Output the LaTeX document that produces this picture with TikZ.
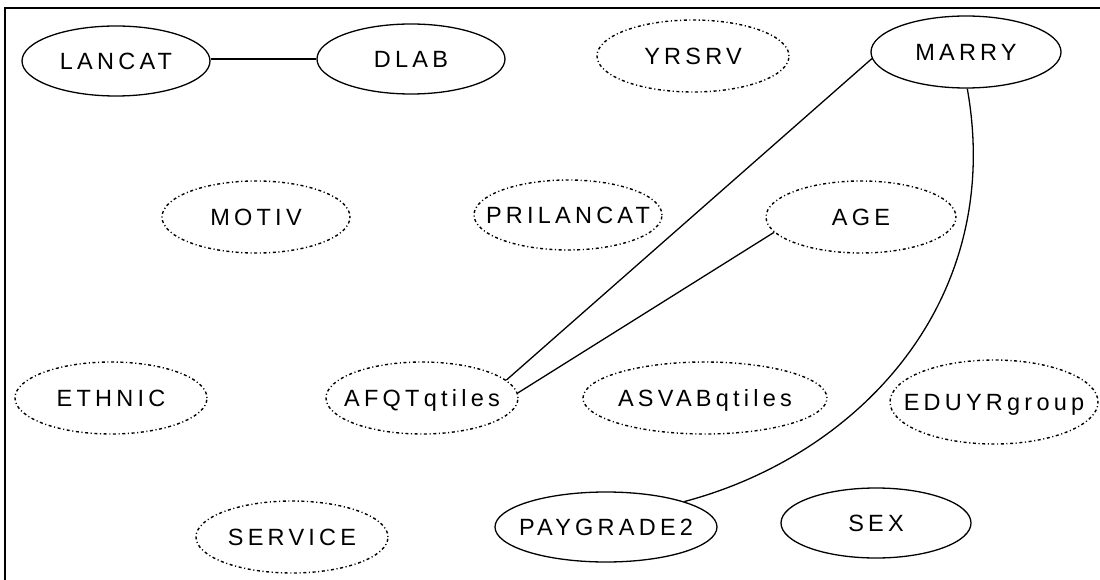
\documentclass[tikz,border=0pt]{standalone}
\usepackage{fontspec}
\setmainfont{Liberation Sans}[LetterSpace=18]
\usetikzlibrary{shapes.geometric}
\newcommand\vlabel[1]{\makebox[0pt]{#1}}
\begin{document}
\begin{tikzpicture}[x=1pt,y=1pt,
  var/.style={ellipse, draw, line width=1.3pt, inner sep=0pt,
    font=\fontsize{23.5}{27}\selectfont, text height=16.5pt, text depth=0pt},
  solidvar/.style={var},
  latent/.style={var, line width=1.4pt, dash pattern=on 1.1pt off 2.6pt on 3pt off 2.6pt},
  link/.style={line width=1.3pt}]
\useasboundingbox (0,0) rectangle (1100,-580);
\draw[line width=1.5pt] (5,-580) -- (5,-8) -- (1100,-8);

\node[solidvar, minimum width=188pt, minimum height=70pt] (lancat) at (116,-61) {\vlabel{LANCAT}};
\node[solidvar, minimum width=188pt, minimum height=70pt] (dlab) at (411,-59) {\vlabel{DLAB}};
\node[latent, minimum width=192pt, minimum height=72pt] (yrsrv) at (693,-56) {\vlabel{YRSRV}};
\node[solidvar, minimum width=190pt, minimum height=72pt] (marry) at (966,-52) {\vlabel{MARRY}};
\node[latent, minimum width=188pt, minimum height=72pt] (motiv) at (256,-217) {\vlabel{MOTIV}};
\node[latent, minimum width=188pt, minimum height=70pt] (prilancat) at (568,-215) {\vlabel{PRILANCAT}};
\node[latent, minimum width=190pt, minimum height=72pt] (age) at (861,-217) {\vlabel{AGE}};
\node[latent, minimum width=192pt, minimum height=72pt] (ethnic) at (111,-398) {\vlabel{ETHNIC}};
\node[latent, minimum width=192pt, minimum height=72pt] (afqt) at (422,-398) {\vlabel{AFQTqtiles}};
\node[latent, minimum width=244pt, minimum height=72pt] (asvab) at (705,-398) {\vlabel{ASVABqtiles}};
\node[latent, minimum width=208pt, minimum height=84pt] (eduyr) at (994,-402) {\vlabel{EDUYRgroup}};
\node[latent, minimum width=192pt, minimum height=72pt] (service) at (292,-537) {\vlabel{SERVICE}};
\node[solidvar, minimum width=222pt, minimum height=70pt] (paygrade) at (606,-527) {\vlabel{PAYGRADE2}};
\node[solidvar, minimum width=190pt, minimum height=70pt] (sex) at (876,-523) {\vlabel{SEX}};

\draw[link] (dlab.west -| lancat.east) -- (dlab.west);
\draw[link] (marry.184) -- (afqt.12);
\draw[link] (age.190) -- (afqt.3);
\draw[link] (marry.272) .. controls (1005,-300) and (860,-455) .. (paygrade.18);
\end{tikzpicture}
\end{document}
